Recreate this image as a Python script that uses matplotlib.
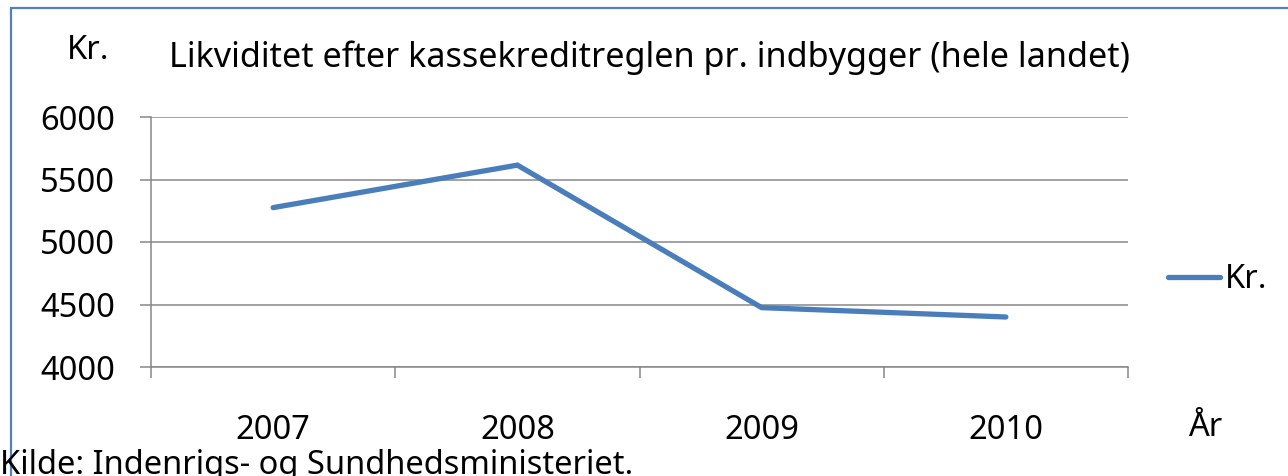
import matplotlib
matplotlib.use("Agg")
import matplotlib.pyplot as plt
from matplotlib.patches import Rectangle

# data
years = ["2007", "2008", "2009", "2010"]
kr_per_capita = [5275, 5615, 4475, 4400]
y_ticks = [4000, 4500, 5000, 5500, 6000]

W, H = 1288, 476
plt.rcParams['font.family'] = ['Noto Sans', 'DejaVu Sans']
FS = 23.5
grey = "#878787"
blue = "#4A7EBB"

fig = plt.figure(figsize=(W / 100, H / 100), dpi=100)

def fx(px):
    return px / W

def fy(py):
    return 1 - py / H

# plot area in pixels: x 151..1128, y 117..367
ax = fig.add_axes([fx(151), fy(367), fx(1128 - 151), (367 - 117) / H])

x = list(range(1, len(years) + 1))
ax.plot(x, kr_per_capita, color=blue, lw=3.8, solid_capstyle="round",
        solid_joinstyle="miter", label="Kr.", zorder=3)

ax.set_xlim(0.5, len(years) + 0.5)
ax.set_ylim(y_ticks[0], y_ticks[-1])
ax.set_yticks(y_ticks)
ax.set_yticklabels([str(v) for v in y_ticks], fontsize=FS)
ax.yaxis.grid(True, color=grey, lw=1.1)
ax.set_axisbelow(True)

ax.set_xticks(x)
ax.set_xticklabels(years, fontsize=FS)
ax.set_xticks([i + 0.5 for i in range(len(years) + 1)], minor=True)
ax.tick_params(axis="x", which="major", length=0, pad=34)
ax.tick_params(axis="x", which="minor", length=8, width=1.1, color=grey, direction="out")
ax.tick_params(axis="y", length=8, width=1.1, color=grey, direction="out", pad=18)

for s in ["top", "right"]:
    ax.spines[s].set_visible(False)
for s in ["left", "bottom"]:
    ax.spines[s].set_color(grey)
    ax.spines[s].set_linewidth(1.1)

leg = ax.legend(loc="center left",
                bbox_to_anchor=((1168 - 151) / (1128 - 151), (367 - 280) / (367 - 117)),
                frameon=False, fontsize=FS, handlelength=1.6, handletextpad=0.15,
                borderpad=0, borderaxespad=0)

# texts
fig.text(fx(67), fy(59), "Kr.", fontsize=FS, ha="left", va="baseline")
fig.text(fx(649), fy(67), "Likviditet efter kassekreditreglen pr. indbygger (hele landet)",
         fontsize=24.6, ha="center", va="baseline")
fig.text(fx(1188), fy(436), "År", fontsize=FS, ha="left", va="baseline")
fig.text(fx(0), fy(474), "Kilde: Indenrigs- og Sundhedsministeriet.", fontsize=FS,
         ha="left", va="baseline")

# chart frame (left and top edges visible)
fig.patches.append(Rectangle((fx(11), fy(H + 20)), 1.2, (H + 20 - 8) / H,
                             transform=fig.transFigure, fill=False,
                             edgecolor="#4F81BD", lw=1.6, zorder=0))

fig.savefig("out.png", dpi=100)
